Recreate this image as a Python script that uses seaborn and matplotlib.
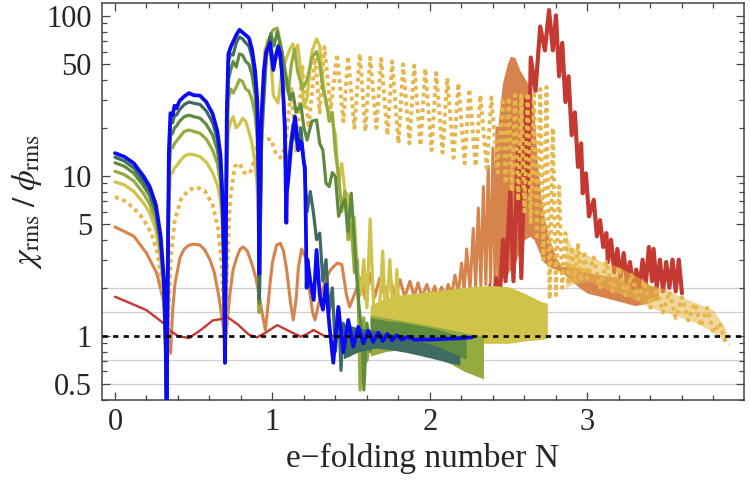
import matplotlib
matplotlib.use("Agg")
import matplotlib.pyplot as plt
import matplotlib.ticker as mtick
import seaborn as sns

sns.set_style("ticks")
plt.rcParams["font.family"] = ["Liberation Serif", "DejaVu Serif"]
plt.rcParams["mathtext.fontset"] = "stix"

BLUE = "#0a0af5"
TEAL = "#3e6b62"
GREEN = "#5e8b3e"
OLIVE = "#95ab3f"
YG = "#cfc34a"
DOT = "#e6b64a"
ORANGE = "#d6844c"
RED = "#c43a32"

# --- first three humps, shared N grid ---
N_early = [0.0, 0.06, 0.12, 0.18, 0.22, 0.26, 0.29, 0.31, 0.322, 0.328, 0.334, 0.342,
           0.352, 0.366, 0.378, 0.39, 0.41, 0.44, 0.47, 0.50, 0.54, 0.58, 0.62, 0.65,
           0.67, 0.685, 0.693, 0.698, 0.703, 0.71, 0.72, 0.735, 0.75, 0.77, 0.79, 0.81,
           0.83, 0.85, 0.87, 0.89, 0.903, 0.912]
blue_early = [13.9, 13.2, 12.0, 10.0, 8.6, 6.6, 4.2, 2.3, 0.9, 0.3, 2.0, 14,
              24.7, 24.0, 27.5, 26.5, 29.5, 31.5, 33.0, 32.0, 31.8, 29.0, 24.5, 19.0,
              13.5, 6.5, 2.5, 0.68, 3.0, 25, 58, 64, 69, 76, 82, 79,
              76, 73, 62, 45, 30, 10]
teal_early = [13.1, 12.4, 11.2, 9.3, 8.0, 6.2, 4.0, 2.2, 0.9, 0.3, 1.8, 12,
              21.5, 21.5, 24, 24, 26, 28, 29, 28.5, 28, 25.5, 21.5, 17,
              12, 6, 2.3, 0.68, 2.8, 22, 52, 58, 57, 68, 74, 72,
              68, 65, 55, 40, 27, 9]
green_early = [12.1, 11.5, 10.4, 8.7, 7.5, 5.8, 3.7, 2.1, 0.85, 0.3, 1.6, 10,
               18, 18.5, 20, 20.5, 22, 23.5, 24, 23.5, 23, 21, 18, 14.5,
               10.5, 5.5, 2.2, 0.68, 2.6, 18, 40, 46, 52, 48, 58, 57,
               52, 50, 43, 32, 22, 8]
olive_early = [10.7, 10.2, 9.3, 7.8, 6.7, 5.2, 3.4, 2.0, 0.8, 0.3, 1.5, 8.5,
               15, 15, 16, 16.5, 17.5, 19, 19.4, 19, 18.5, 17, 14.5, 12,
               9, 5, 2.1, 0.7, 2.4, 14, 30, 35, 33, 36, 40, 39,
               35, 34, 30, 24, 17, 7]
yg_early = [9.2, 8.8, 8.0, 6.8, 5.9, 4.6, 3.0, 1.8, 0.75, 0.3, 1.3, 6.5,
            10.4, 10.5, 11.3, 11.5, 12.3, 13.3, 13.7, 13.6, 13.2, 12.2, 10.5, 8.8,
            7, 4.2, 2, 0.7, 2.2, 10, 19, 22, 23.5, 20, 21, 23,
            22, 19, 16, 12, 8.5, 4]

# --- later, individual parts ---
N_blue_late = [0.916, 0.924, 0.93, 0.945, 0.96, 0.984, 0.995, 1.005, 1.02, 1.037, 1.05,
               1.065, 1.078, 1.088, 1.092, 1.1, 1.12, 1.143, 1.155, 1.164, 1.175, 1.185,
               1.2, 1.206, 1.212, 1.217, 1.222, 1.24, 1.262, 1.28, 1.30, 1.32, 1.34,
               1.36, 1.386, 1.418, 1.45, 1.481, 1.513, 1.545, 1.577, 1.608, 1.64,
               1.672, 1.70, 1.73, 1.76, 1.79, 1.82, 1.86, 1.9, 2.0, 2.1, 2.2, 2.265]
blue_late = [2.45, 12, 23.5, 45, 60, 68, 55, 46, 55, 64, 58,
             38, 20, 5.1, 8, 9.4, 16, 23.5, 18, 14.5, 16.5, 16,
             12, 11.4, 5, 2.0, 3.0, 2.2, 1.68, 3.45, 1.8, 1.46, 2.1,
             1.2, 0.68, 1.52, 0.79, 1.26, 0.86, 1.14, 0.9, 1.08, 0.92,
             1.05, 0.93, 1.03, 0.94, 1.01, 0.95, 0.99, 0.95, 0.95, 0.96, 0.97, 0.98]

N_teal_late = [0.916, 0.93, 0.96, 0.984, 1.005, 1.037, 1.06, 1.08, 1.09, 1.1, 1.13, 1.16,
               1.18, 1.2, 1.22, 1.24, 1.26, 1.28, 1.3, 1.32, 1.34, 1.36, 1.38, 1.40,
               1.42, 1.435, 1.45]
teal_late = [1.7, 20, 58, 74, 50, 66, 45, 20, 8, 12, 21, 15,
             20, 12, 6, 8, 5.9, 4.0, 4.4, 2.2, 3.0, 1.4, 2.0, 0.8,
             1.5, 0.61, 1.2]
N_teal_band = [1.45, 1.55, 1.65, 1.75, 1.85, 1.95, 2.05, 2.12, 2.19]
teal_top = [1.2, 1.12, 1.08, 1.03, 0.98, 0.92, 0.86, 0.8, 0.75]
teal_bot = [0.72, 0.8, 0.84, 0.82, 0.79, 0.75, 0.71, 0.68, 0.66]

N_green_late = [0.916, 0.93, 0.96, 0.99, 1.01, 1.03, 1.06, 1.09, 1.11, 1.13, 1.15, 1.18,
                1.2, 1.22, 1.25, 1.28, 1.3, 1.32, 1.34, 1.36, 1.38, 1.40, 1.42, 1.44,
                1.46, 1.48, 1.5, 1.52, 1.53, 1.55, 1.57, 1.58, 1.6, 1.62]
green_late = [1.6, 18, 55, 78, 65, 80, 60, 40, 30, 33, 25, 28,
              20, 16.8, 22, 22.4, 16, 14.5, 9, 8.6, 10.5, 9.9, 5.6, 6.5,
              7.1, 4.5, 7.8, 4.0, 2.7, 1.5, 1.0, 0.46, 1.2, 0.8]
N_green_band = [1.62, 1.72, 1.82, 1.92, 2.02, 2.12, 2.23]
green_top = [1.3, 1.25, 1.22, 1.17, 1.12, 1.05, 0.97]
green_bot = [0.85, 0.88, 0.88, 0.86, 0.82, 0.77, 0.72]

N_olive_late = [0.916, 0.93, 0.96, 0.985, 1.005, 1.03, 1.06, 1.08, 1.1, 1.12, 1.14, 1.16,
                1.19, 1.22, 1.25, 1.28, 1.3, 1.32, 1.34, 1.36, 1.38, 1.4, 1.42, 1.44,
                1.46, 1.48, 1.5, 1.52, 1.54, 1.556, 1.58, 1.6, 1.62]
olive_late = [1.4, 15, 55, 75, 82, 84, 60, 40, 33, 50, 62, 45,
              35, 40, 55, 60, 50, 35, 30, 22, 25, 14, 10, 6,
              8, 4, 5, 2.5, 3, 0.46, 1.3, 0.7, 1.0]
N_olive_band = [1.62, 1.72, 1.82, 1.92, 2.02, 2.12, 2.22, 2.34]
olive_top = [1.35, 1.3, 1.25, 1.2, 1.15, 1.1, 1.05, 1.0]
olive_bot = [0.75, 0.8, 0.82, 0.8, 0.75, 0.68, 0.6, 0.54]

N_yg_late = [0.916, 0.93, 0.95, 0.97, 0.99, 1.005, 1.035, 1.06, 1.09, 1.11, 1.13, 1.14,
             1.16, 1.18, 1.2, 1.22, 1.25, 1.28, 1.3, 1.32, 1.34, 1.37, 1.4, 1.42,
             1.44, 1.46, 1.48, 1.5, 1.52, 1.54, 1.56, 1.58, 1.6, 1.62, 1.645, 1.67,
             1.7, 1.72, 1.745, 1.77, 1.79, 1.81]
yg_late = [1.4, 15, 60, 71, 55, 32, 28.6, 45, 55, 62, 67, 58,
           66, 45, 27, 31, 60, 72, 65, 40, 28, 24, 18, 9,
           12, 8, 7.6, 4, 5.5, 2.5, 1.8, 3, 1.5, 5.4, 1.3, 1.0,
           3.4, 1.2, 3.0, 1.1, 2.6, 1.05]
N_yg_band = [1.62, 1.7, 1.8, 1.9, 2.0, 2.1, 2.2, 2.3, 2.4, 2.5, 2.6, 2.7, 2.745]
yg_top = [1.55, 1.7, 1.8, 1.85, 1.9, 1.95, 2.0, 2.05, 2.07, 2.03, 1.85, 1.65, 1.6]
yg_bot = [1.15, 1.1, 1.05, 1.0, 0.97, 0.95, 0.93, 0.9, 0.9, 0.9, 0.93, 0.95, 0.97]

N_dot = [0.0, 0.06, 0.12, 0.18, 0.23, 0.27, 0.3, 0.318, 0.328, 0.338, 0.355, 0.38,
         0.42, 0.47, 0.52, 0.57, 0.62, 0.655, 0.68, 0.693, 0.70, 0.71, 0.73, 0.76,
         0.79, 0.82, 0.85, 0.87, 0.9, 0.93, 0.96, 0.99, 1.02, 1.05, 1.08,
         1.12, 1.15, 1.19, 1.23, 1.27, 1.3, 1.33, 1.37, 1.41, 1.45, 1.48, 1.52,
         1.555, 1.59, 1.62, 1.66, 1.69, 1.73, 1.76, 1.80, 1.83, 1.87, 1.90, 1.94,
         1.97, 2.01, 2.04, 2.08, 2.11, 2.15, 2.18, 2.22, 2.25, 2.29, 2.32, 2.36,
         2.39, 2.43, 2.46]
dot_y = [7.4, 7.0, 6.3, 5.4, 4.4, 3.3, 2.1, 1.2, 0.4, 1.3, 3.2, 5.3,
         7.2, 8.2, 8.5, 8.1, 6.6, 4.7, 2.6, 1.2, 0.75, 2.5, 7, 11.5,
         12, 10.5, 10.3, 11, 15, 18, 17, 17, 14, 13, 15,
         36, 14, 48, 20, 55, 25, 64, 26, 58, 22, 56, 20,
         58, 19, 55, 20, 54, 18, 52, 16, 50, 16, 49, 15.5,
         47, 14.5, 44, 14, 41, 13, 38, 12, 35, 11.5, 32, 11.2,
         31, 10.5, 30]
N_dot_late = [2.46, 2.48, 2.50, 2.52, 2.54, 2.56, 2.58, 2.60, 2.62, 2.64, 2.66, 2.68,
              2.70, 2.72, 2.74, 2.76, 2.78, 2.80, 2.82, 2.84, 2.86, 2.88, 2.90, 2.92,
              2.94, 2.96, 2.98, 3.0, 3.04, 3.08, 3.12, 3.16, 3.2, 3.24, 3.28, 3.32,
              3.36, 3.4, 3.44, 3.48, 3.52, 3.56, 3.6, 3.64, 3.68, 3.72, 3.76, 3.8,
              3.84, 3.87, 3.9]
dot_late = [30, 9, 31, 8, 32, 7, 32, 6, 33, 5, 34, 4,
            35, 3, 36, 1.7, 20, 1.8, 8.6, 2.0, 4.4, 2.1, 3.6, 2.2,
            3.8, 2.2, 3.4, 2.3, 3.1, 2.0, 2.9, 1.9, 2.7, 1.8, 2.4, 1.7,
            2.2, 1.5, 2.0, 1.4, 1.9, 1.3, 1.75, 1.25, 1.6, 1.15, 1.5, 1.05,
            1.2, 0.95, 0.88]
N_dot_band = [2.86, 2.9, 3.0, 3.1, 3.2, 3.3, 3.4, 3.5, 3.6, 3.7, 3.8, 3.88]
dot_band_lo = [2.0, 2.1, 2.2, 2.0, 1.85, 1.7, 1.5, 1.4, 1.3, 1.2, 1.05, 0.92]
dot_band_hi = [4.4, 3.6, 3.2, 2.9, 2.7, 2.4, 2.1, 1.95, 1.75, 1.6, 1.45, 1.1]

N_orange = [0.0, 0.06, 0.12, 0.2, 0.265, 0.307, 0.339, 0.353, 0.365, 0.381, 0.413, 0.44,
            0.47, 0.5, 0.54, 0.57, 0.603, 0.63, 0.656, 0.685, 0.70, 0.715, 0.73, 0.75,
            0.773, 0.795, 0.815, 0.84, 0.868, 0.895, 0.92, 0.94, 0.955, 0.97, 0.984, 1.0,
            1.026, 1.05, 1.07, 1.09, 1.115, 1.132, 1.15, 1.165, 1.185, 1.21, 1.23, 1.255,
            1.27, 1.3, 1.34, 1.37, 1.41, 1.44, 1.47, 1.49,
            1.56, 1.59, 1.62, 1.65, 1.68,
            1.715, 1.746, 1.78, 1.81, 1.84, 1.873, 1.90, 1.924, 1.95, 1.98, 2.005, 2.03,
            2.05, 2.074, 2.095, 2.116, 2.137, 2.159, 2.18, 2.201, 2.217, 2.233, 2.254, 2.275,
            2.29, 2.307, 2.323, 2.339, 2.355, 2.37, 2.385, 2.40, 2.413, 2.425, 2.435]
orange_y = [4.8, 4.5, 4.2, 3.3, 2.47, 1.68, 1.03, 0.78, 1.4, 2.13, 3.1, 3.5,
            3.7, 3.75, 3.7, 3.45, 3.0, 2.5, 1.85, 1.2, 0.85, 1.3, 1.85, 2.6,
            3.1, 3.5, 3.6, 3.4, 2.85, 2.3, 1.68, 1.3, 1.09, 1.5, 2.1, 2.9,
            3.7, 3.8, 3.4, 2.6, 1.6, 1.26, 1.7, 2.7, 3.5, 3.1, 2.1, 1.4,
            1.26, 1.7, 2.3, 2.6, 2.85, 2.8, 1.8, 1.52,
            2.3, 1.7, 2.45, 1.75, 2.3,
            1.75, 2.3, 1.75, 2.25, 1.75, 2.2, 1.75, 2.15, 1.75, 2.1, 1.75, 2.05,
            1.75, 2.02, 1.75, 2.1, 1.8, 2.4, 1.85, 2.86, 1.9, 3.5, 1.95, 4.7,
            2.0, 6.3, 2.05, 8.6, 2.1, 11.5, 2.15, 15, 2.2, 20, 2.2]
N_orange_band = [2.43, 2.46, 2.49, 2.51, 2.54, 2.57, 2.6, 2.635, 2.66, 2.68, 2.70, 2.72,
                 2.76, 2.80, 2.84]
orange_top = [20, 38, 50, 56, 55, 46, 41, 36, 26, 13, 8, 5.9, 4.0, 3.1, 2.7]
orange_bot = [2.2, 2.3, 2.4, 2.6, 2.8, 3.5, 4.0, 4.2, 4.0, 3.6, 3.2, 2.9, 2.7, 2.6, 2.5]
N_orange_tail = [2.84, 2.9, 2.95, 3.0, 3.1, 3.2, 3.3, 3.38, 3.45]
orange_tail_top = [2.7, 2.8, 2.6, 2.5, 2.4, 2.3, 2.2, 2.1, 2.0]
orange_tail_bot = [2.5, 2.2, 2.0, 1.85, 1.75, 1.65, 1.55, 1.6, 1.7]

N_red = [0.0, 0.1, 0.2, 0.3, 0.35, 0.4, 0.47, 0.55, 0.62, 0.72, 0.78, 0.85,
         0.9, 0.95, 1.03, 1.1, 1.18, 1.22, 1.26, 1.33, 1.45, 1.55, 1.65, 1.75,
         1.8, 1.85, 1.9, 1.95, 1.98, 2.02, 2.05, 2.08, 2.11, 2.14, 2.17, 2.2,
         2.23, 2.26, 2.29, 2.32, 2.35, 2.38, 2.40]
red_y = [1.76, 1.6, 1.45, 1.22, 1.08, 1.0, 0.97, 1.1, 1.25, 1.3, 1.18, 1.02,
         0.98, 1.04, 1.17, 1.08, 0.99, 1.03, 1.09, 1.0, 1.0, 1.05, 0.98, 1.1,
         0.97, 1.15, 0.98, 1.25, 1.0, 1.35, 1.0, 1.3, 1.02, 1.45, 1.05, 1.55,
         1.1, 1.7, 1.2, 1.9, 1.3, 2.1, 1.5]
N_red_late = [2.40, 2.42, 2.44, 2.465, 2.48, 2.51, 2.53, 2.56, 2.58, 2.61, 2.625, 2.64,
              2.67, 2.70, 2.73, 2.756, 2.78, 2.80, 2.82, 2.84, 2.86, 2.88, 2.90, 2.92,
              2.94, 2.96, 2.97, 2.99, 3.01, 3.04, 3.06, 3.08, 3.10, 3.12, 3.13, 3.15,
              3.17, 3.19, 3.21, 3.23, 3.25, 3.27, 3.29, 3.31, 3.33, 3.35, 3.37, 3.39,
              3.41, 3.42, 3.44, 3.46, 3.48, 3.50, 3.52, 3.54, 3.56, 3.58, 3.60]
red_late = [1.5, 2.3, 1.6, 4, 2.2, 8, 2.2, 15, 2.3, 30, 8, 55,
            34, 86, 61, 109, 61, 101, 42, 68, 29, 42, 18, 25,
            11.4, 16, 7.8, 10.4, 5.6, 7.1, 4.2, 5.3, 3.6, 4.4, 2.9, 4.0,
            2.5, 3.5, 2.3, 3.3, 2.2, 2.9, 2.0, 2.6, 2.0, 3.0, 2.1, 3.6,
            2.2, 3.5, 2.0, 3.0, 1.9, 2.9, 2.0, 3.0, 1.9, 3.0, 1.85]

grid_levels = [0.5, 0.7071, 1.4142, 2.0]
ytick_vals = [0.5, 1, 5, 10, 50, 100]
ytick_labels = ["0.5", "1", "5", "10", "50", "100"]
yminor = [0.4, 0.6, 0.7, 0.8, 0.9, 2, 3, 4, 6, 7, 8, 9, 20, 30, 40, 60, 70, 80, 90]
xtick_vals = [0, 1, 2, 3]
xminor = [0.2, 0.4, 0.6, 0.8, 1.2, 1.4, 1.6, 1.8, 2.2, 2.4, 2.6, 2.8, 3.2, 3.4, 3.6, 3.8]

fig = plt.figure(figsize=(7.5, 4.88), dpi=100)
ax = fig.add_axes([0.1356, 0.1803, 0.8564, 0.8135])
ax.set_yscale("log")

for g in grid_levels:
    ax.axhline(g, color="#cfcfcf", lw=0.9, zorder=0.5)


def line(x, y, color, lw, z, **kw):
    sns.lineplot(x=x, y=y, ax=ax, color=color, lw=lw, estimator=None, sort=False,
                 zorder=z, **kw)


def band(x, lo, hi, color, z, alpha=1.0):
    ax.fill_between(x, lo, hi, color=color, lw=0, zorder=z, alpha=alpha)


# orange
line(N_orange, orange_y, ORANGE, 2.2, 2)
band(N_orange_band, orange_bot, orange_top, ORANGE, 2)
band(N_orange_tail, orange_tail_bot, orange_tail_top, ORANGE, 2)
# red
line(N_red, red_y, RED, 1.7, 3)
line(N_red_late, red_late, RED, 3.0, 3)
# dotted
dot_style = dict(linestyle=(0, (1, 1.0)), dash_capstyle="butt")
band(N_dot_band, dot_band_lo, dot_band_hi, DOT, 4, alpha=0.55)
line(N_dot, dot_y, DOT, 2.8, 4, **dot_style)
line(N_dot_late, dot_late, DOT, 2.8, 4, **dot_style)
# yellow-green
line(N_early + N_yg_late, yg_early + yg_late, YG, 2.3, 5)
band(N_yg_band, yg_bot, yg_top, YG, 5)
# olive
line(N_early + N_olive_late, olive_early + olive_late, OLIVE, 2.3, 6)
band(N_olive_band, olive_bot, olive_top, OLIVE, 6)
# green
line(N_early + N_green_late, green_early + green_late, GREEN, 2.3, 7)
band(N_green_band, green_bot, green_top, GREEN, 7)
# teal
line(N_early + N_teal_late, teal_early + teal_late, TEAL, 2.3, 8)
band(N_teal_band, teal_bot, teal_top, TEAL, 8)
# blue
line(N_early + N_blue_late, blue_early + blue_late, BLUE, 2.7, 9)

ax.axhline(1.0, color="black", lw=1.9, linestyle=(0, (2, 2)), zorder=10)

ax.set_xlim(-0.0844, 3.994)
ax.set_ylim(0.398, 120.6)

ax.yaxis.set_major_locator(mtick.FixedLocator(ytick_vals))
ax.yaxis.set_major_formatter(mtick.FixedFormatter(ytick_labels))
ax.yaxis.set_minor_locator(mtick.FixedLocator(yminor))
ax.yaxis.set_minor_formatter(mtick.NullFormatter())
ax.xaxis.set_major_locator(mtick.FixedLocator(xtick_vals))
ax.xaxis.set_minor_locator(mtick.FixedLocator(xminor))

ax.tick_params(which="both", direction="in", top=True, right=True, color="#444444",
               labelsize=22, width=0.9)
ax.tick_params(which="major", length=6)
ax.tick_params(which="minor", length=3.5)
ax.tick_params(axis="y", pad=7)
ax.tick_params(axis="x", pad=6)
for s in ax.spines.values():
    s.set_color("#444444")
    s.set_linewidth(1.1)

ax.set_xlabel("e\u2212folding number N", fontsize=24, labelpad=4)
ax.set_ylabel(r"$\chi_{\rm rms}\;/\;\phi_{\rm rms}$", fontsize=24, labelpad=2)

fig.savefig("out.png", dpi=100, facecolor="white")
